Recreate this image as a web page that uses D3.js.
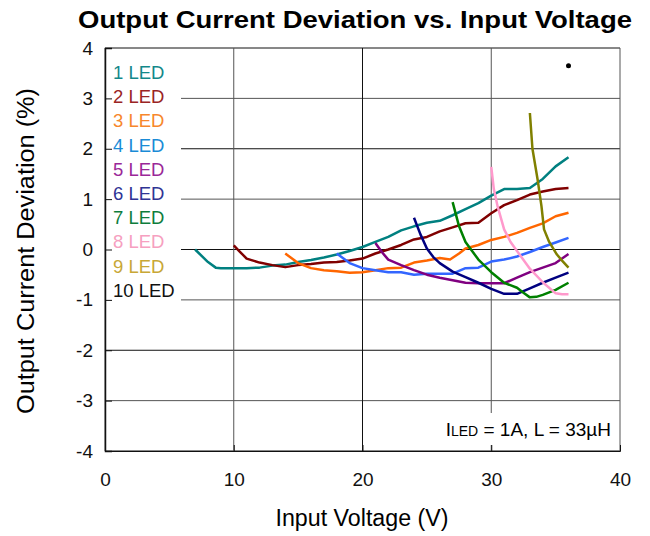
<!DOCTYPE html>
<html>
<head>
<meta charset="utf-8">
<script src="https://cdn.jsdelivr.net/npm/d3@7"></script>
<style>
  body { margin: 0; background: #fff; }
  text { font-family: Arial, "Liberation Sans", sans-serif; }
</style>
</head>
<body>
<svg id="chart" width="650" height="536"></svg>
<script>
let xTicks = [0, 10, 20, 30, 40]
let yTicks = [-4, -3, -2, -1, 0, 1, 2, 3, 4]

let legendLabels = ['1 LED', '2 LED', '3 LED', '4 LED', '5 LED', '6 LED', '7 LED', '8 LED', '9 LED', '10 LED']
let legendColors = ['#13888a', '#9a2424', '#f7872c', '#1a8bd6', '#9a2898', '#2f3494', '#0e7d3c', '#f6a0c0', '#c8a736', '#111']
let lineColors = ['#008080', '#800000', '#ff6600', '#3366ff', '#800080', '#000080', '#008000', '#ff99cc', '#808000', '#000']

let led1 = [[7,0],[8,-0.25],[8.6,-0.36],[9,-0.37],[10,-0.37],[11,-0.37],[12,-0.36],[13,-0.32],[14,-0.3],[15,-0.25],[16,-0.21],[17,-0.16],[18,-0.1],[19,-0.03],[20,0.05],[21,0.15],[22,0.25],[23,0.38],[24,0.46],[25,0.53],[26,0.57],[27,0.68],[28,0.8],[29,0.92],[30,1.07],[31,1.2],[32,1.2],[33,1.22],[34,1.4],[35,1.65],[36,1.83]]
let led2 = [[10,0.08],[10.5,-0.05],[11,-0.18],[12,-0.26],[13,-0.31],[14,-0.35],[15,-0.31],[16,-0.29],[17,-0.26],[18,-0.25],[19,-0.22],[20,-0.18],[21,-0.08],[22,0],[23,0.09],[24,0.2],[25,0.25],[26,0.36],[27,0.44],[28,0.52],[29,0.53],[30,0.72],[31,0.88],[32,0.98],[33,1.09],[34,1.15],[35,1.2],[36,1.22]]
let led3 = [[14,-0.08],[15,-0.27],[16,-0.37],[17,-0.41],[18,-0.43],[19,-0.46],[20,-0.45],[21,-0.41],[22,-0.37],[23,-0.36],[24,-0.26],[25,-0.22],[26,-0.17],[26.8,-0.2],[27.5,-0.08],[28,0.02],[29,0.09],[30,0.19],[31,0.25],[32,0.33],[33,0.43],[34,0.52],[35,0.66],[36,0.73]]
let led4 = [[18,-0.08],[19,-0.27],[20,-0.37],[21,-0.41],[22,-0.45],[23,-0.45],[24,-0.5],[25,-0.48],[26,-0.48],[27,-0.48],[28,-0.37],[29,-0.36],[30,-0.24],[31,-0.2],[32,-0.14],[33,-0.05],[34,0.05],[35,0.14],[36,0.23]]
let led5 = [[21,0.13],[21.5,-0.05],[22,-0.2],[23,-0.31],[24,-0.41],[25,-0.5],[26,-0.56],[27,-0.61],[28,-0.66],[29,-0.67],[30,-0.67],[31,-0.67],[32,-0.56],[33,-0.45],[34,-0.36],[35,-0.27],[36,-0.09]]
let led6 = [[24,0.63],[24.5,0.3],[25,0.02],[25.5,-0.15],[26,-0.27],[27,-0.44],[28,-0.55],[29,-0.66],[30,-0.78],[31,-0.88],[32,-0.88],[33,-0.77],[34,-0.66],[35,-0.56],[36,-0.46]]
let led7 = [[27,0.94],[27.5,0.46],[28,0.15],[29,-0.2],[30,-0.45],[31,-0.66],[32,-0.76],[32.5,-0.86],[33,-0.95],[33.5,-0.94],[34,-0.9],[35,-0.8],[36,-0.66]]
let led8 = [[30,1.64],[30.2,1.2],[30.5,0.85],[31,0.4],[31.5,0.15],[32,-0.03],[33,-0.38],[34,-0.65],[35,-0.87],[35.5,-0.89],[36,-0.89]]
let led9 = [[33,2.71],[33.2,2.0],[33.6,1.39],[33.9,0.86],[34.1,0.4],[34.5,0.15],[35.1,-0.1],[35.5,-0.22],[36,-0.36]]
let led10 = [[36,3.65]]

let series = [led1, led2, led3, led4, led5, led6, led7, led8, led9, led10]

let svg = d3.select('#chart')
let plotLeft = 105, plotRight = 620, plotTop = 48, plotBottom = 451

let x = d3.scaleLinear().domain([0, 40]).range([plotLeft, plotRight])
let y = d3.scaleLinear().domain([-4, 4]).range([plotBottom, plotTop])

svg.append('text')
  .attr('x', 355).attr('y', 28)
  .attr('text-anchor', 'middle')
  .attr('font-size', 24).attr('font-weight', 'bold')
  .attr('textLength', 554).attr('lengthAdjust', 'spacingAndGlyphs')
  .text('Output Current Deviation vs. Input Voltage')

// grid
let grid = svg.append('g')
grid.selectAll('line.h')
  .data(yTicks)
  .enter().append('line')
    .attr('class', 'h')
    .attr('x1', plotLeft).attr('x2', plotRight)
    .attr('y1', d => y(d)).attr('y2', d => y(d))
    .attr('stroke', d => d % 2 === 0 ? '#111' : '#555')
grid.selectAll('line.v')
  .data(xTicks)
  .enter().append('line')
    .attr('class', 'v')
    .attr('x1', d => x(d)).attr('x2', d => x(d))
    .attr('y1', plotTop).attr('y2', plotBottom)
    .attr('stroke', d => d === 20 ? '#111' : '#555')

// legend background hides the grid
svg.append('rect')
  .attr('x', plotLeft + 1).attr('y', 56)
  .attr('width', 75).attr('height', 248)
  .attr('fill', '#fff')

let fmt = d => String(d)

let yAxis = d3.axisLeft(y).tickValues(yTicks).tickFormat(fmt).tickSize(-7).tickPadding(12)
svg.append('g')
  .attr('transform', `translate(${plotLeft},0)`)
  .call(yAxis)
  .call(g => g.select('.domain').attr('stroke', '#111').attr('stroke-width', 1.5))
  .call(g => g.selectAll('.tick line').attr('stroke', '#111'))
  .call(g => g.selectAll('.tick text').attr('font-size', 19).attr('fill', '#111')
    .style('font-family', 'Arial, "Liberation Sans", sans-serif'))

let xAxis = d3.axisBottom(x).tickValues(xTicks).tickFormat(fmt).tickSize(-6).tickPadding(22)
svg.append('g')
  .attr('transform', `translate(0,${plotBottom})`)
  .call(xAxis)
  .call(g => g.select('.domain').attr('stroke', '#111'))
  .call(g => g.selectAll('.tick line').attr('stroke', '#111'))
  .call(g => g.selectAll('.tick text').attr('font-size', 19).attr('fill', '#111')
    .style('font-family', 'Arial, "Liberation Sans", sans-serif'))

svg.append('text')
  .attr('x', 362).attr('y', 526)
  .attr('text-anchor', 'middle')
  .attr('font-size', 23)
  .attr('textLength', 173).attr('lengthAdjust', 'spacingAndGlyphs')
  .text('Input Voltage (V)')

svg.append('text')
  .attr('transform', 'translate(34,251) rotate(-90)')
  .attr('text-anchor', 'middle')
  .attr('font-size', 23)
  .attr('textLength', 326).attr('lengthAdjust', 'spacingAndGlyphs')
  .text('Output Current Deviation (%)')

// annotation
let note = svg.append('g')
note.append('rect')
  .attr('x', 428).attr('y', 413)
  .attr('width', 188).attr('height', 32)
  .attr('fill', '#fff')
let noteText = note.append('text')
  .attr('x', 611).attr('y', 436)
  .attr('text-anchor', 'end')
  .attr('font-size', 19)
noteText.append('tspan').text('I')
noteText.append('tspan').attr('font-size', 14).text('LED')
noteText.append('tspan').text(' = 1A, L = 33µH')

let line = d3.line()
  .x(d => x(d[0]))
  .y(d => y(d[1]))

svg.append('g')
  .selectAll('path')
  .data(series.filter(s => s.length > 1))
  .enter().append('path')
    .attr('d', line)
    .attr('fill', 'none')
    .attr('stroke', (d, i) => lineColors[i])
    .attr('stroke-width', 2.5)
    .attr('stroke-linejoin', 'round')

svg.append('g')
  .selectAll('circle')
  .data(series.filter(s => s.length === 1))
  .enter().append('circle')
    .attr('cx', d => x(d[0][0]))
    .attr('cy', d => y(d[0][1]))
    .attr('r', 2.5)
    .attr('fill', '#000')

svg.append('g')
  .selectAll('text')
  .data(legendLabels)
  .enter().append('text')
    .attr('x', 113)
    .attr('y', (d, i) => 79 + i * 24.2)
    .attr('font-size', 18.5)
    .attr('fill', (d, i) => legendColors[i])
    .text(d => d)
</script>
</body>
</html>
